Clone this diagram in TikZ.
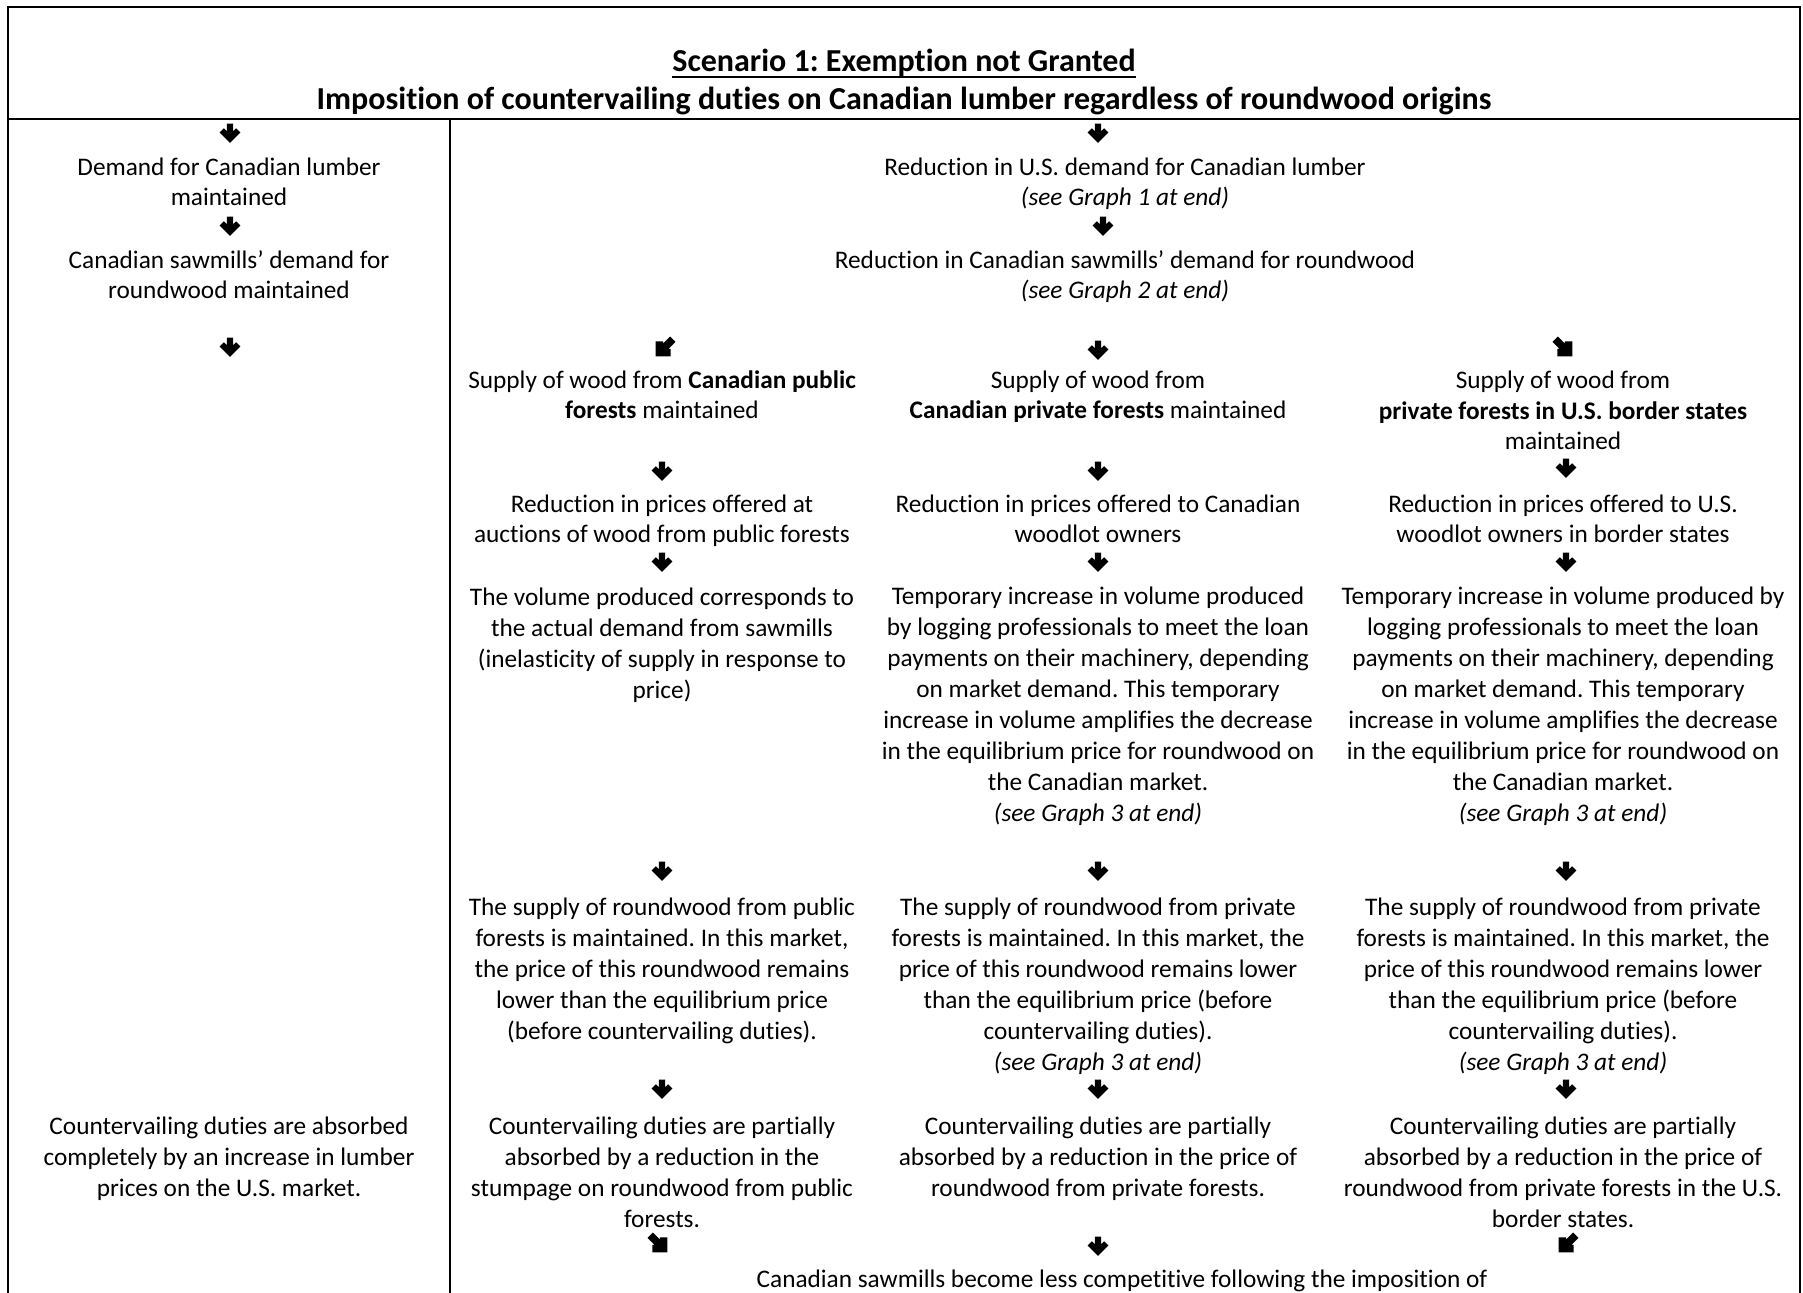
\documentclass[tikz,border=0pt]{standalone}
\usepackage{fontspec}
\setmainfont{Carlito}[Ligatures=NoCommon]
\frenchspacing
\begin{document}
\begin{tikzpicture}[x=0.5pt,y=-0.5pt,
  % multi-line nodes are anchored at the baseline of their last line
  body/.style={font=\fontsize{12.65}{15.45}\selectfont\frenchspacing, align=center, inner sep=0pt, anchor=base},
  head/.style={font=\fontsize{16}{19}\selectfont\bfseries\frenchspacing, inner sep=0pt, anchor=base},
  frame/.style={line width=0.9pt},
  % heavy downward arrow glyph
  dnarrow/.pic={\fill[scale=1.1] (-2.9,-8.5) -- (2.9,-8.5) -- (2.9,-1.66) -- (5.5,-4.3) -- (9.4,-0.4) -- (0,9) -- (-9.4,-0.4) -- (-5.5,-4.3) -- (-2.9,-1.66) -- cycle;},
  % heavy arrow with a longer shaft, used rotated for the diagonal glyphs
  diagarrow/.pic={\fill[scale=1.25, yshift=0.6pt] (-3,-11) -- (3,-11) -- (3,-2.98) -- (4.26,-4.24) -- (8.5,0) -- (0,8.5) -- (-8.5,0) -- (-4.26,-4.24) -- (-3,-2.98) -- cycle;},
]
% canvas
\fill[white] (0,0) rectangle (1803,1293);
\useasboundingbox (0,0) rectangle (1803,1293);

% table rules
\draw[frame] (8,1293) -- (8,7) -- (1800,7) -- (1800,1293);
\draw[frame] (8,119) -- (1800,119);
\draw[frame] (450,119) -- (450,1293);

% heading
\node[head] (t1) at (904,72) {Scenario 1: Exemption not Granted};
\draw[line width=1pt] ([yshift=-2.6pt]t1.base west) -- ([yshift=-2.6pt]t1.base east);
\node[head] (t2) at (904,110) {Imposition of countervailing duties on Canadian lumber regardless of roundwood origins};

% left column: exemption scenario
\pic at (230,133) {dnarrow};
\node[body] (l1) at (229,206) {Demand for Canadian lumber\\maintained};
\pic at (230,226) {dnarrow};
\node[body] (l2) at (229,299) {Canadian sawmills’ demand for\\roundwood maintained};
\pic at (230,347) {dnarrow};
\node[body] (l3) at (229,1196) {Countervailing duties are absorbed\\completely by an increase in lumber\\prices on the U.S. market.};

% right part: common trunk
\pic at (1098,133) {dnarrow};
\node[body] (r1) at (1125,206) {Reduction in U.S. demand for Canadian lumber\\\textit{(see Graph 1 at end)}};
\pic at (1103,226) {dnarrow};
\node[body] (r2) at (1125,299) {Reduction in Canadian sawmills’ demand for roundwood\\\textit{(see Graph 2 at end)}};

% split into three supply sources
\pic[rotate=-45] at (662,350) {diagarrow};
\pic at (1098,350) {dnarrow};
\pic[rotate=45] at (1566,350) {diagarrow};

\node[body] (a1) at (662,419) {Supply of wood from \textbf{Canadian public}\\\textbf{forests} maintained};
\node[body] (b1) at (1098,419) {Supply of wood from\\\textbf{Canadian private forests} maintained};
\node[body] (c1) at (1563,450) {Supply of wood from\\\textbf{private forests in U.S. border states}\\maintained};

\pic at (662,471) {dnarrow};
\pic at (1098,471) {dnarrow};
\pic at (1566,468) {dnarrow};

\node[body] (a2) at (662,543) {Reduction in prices offered at\\auctions of wood from public forests};
\node[body] (b2) at (1098,543) {Reduction in prices offered to Canadian\\woodlot owners};
\node[body] (c2) at (1563,543) {Reduction in prices offered to U.S.\\woodlot owners in border states};

\pic at (662,562) {dnarrow};
\pic at (1098,562) {dnarrow};
\pic at (1566,562) {dnarrow};

\node[body] (a3) at (662,698) {The volume produced corresponds to\\the actual demand from sawmills\\(inelasticity of supply in response to\\price)};
\node[body] (b3) at (1098,821) {Temporary increase in volume produced\\by logging professionals to meet the loan\\payments on their machinery, depending\\on market demand. This temporary\\increase in volume amplifies the decrease\\in the equilibrium price for roundwood on\\the Canadian market.\\\textit{(see Graph 3 at end)}};
\node[body] (c3) at (1563,821) {Temporary increase in volume produced by\\logging professionals to meet the loan\\payments on their machinery, depending\\on market demand. This temporary\\increase in volume amplifies the decrease\\in the equilibrium price for roundwood on\\the Canadian market.\\\textit{(see Graph 3 at end)}};

\pic at (662,871) {dnarrow};
\pic at (1098,871) {dnarrow};
\pic at (1566,871) {dnarrow};

\node[body] (a4) at (662,1039) {The supply of roundwood from public\\forests is maintained. In this market,\\the price of this roundwood remains\\lower than the equilibrium price\\(before countervailing duties).};
\node[body] (b4) at (1098,1070) {The supply of roundwood from private\\forests is maintained. In this market, the\\price of this roundwood remains lower\\than the equilibrium price (before\\countervailing duties).\\\textit{(see Graph 3 at end)}};
\node[body] (c4) at (1563,1070) {The supply of roundwood from private\\forests is maintained. In this market, the\\price of this roundwood remains lower\\than the equilibrium price (before\\countervailing duties).\\\textit{(see Graph 3 at end)}};

\pic at (662,1089) {dnarrow};
\pic at (1098,1089) {dnarrow};
\pic at (1566,1089) {dnarrow};

\node[body] (a5) at (662,1227) {Countervailing duties are partially\\absorbed by a reduction in the\\stumpage on roundwood from public\\forests.};
\node[body] (b5) at (1098,1196) {Countervailing duties are partially\\absorbed by a reduction in the price of\\roundwood from private forests.};
\node[body] (c5) at (1563,1227) {Countervailing duties are partially\\absorbed by a reduction in the price of\\roundwood from private forests in the U.S.\\border states.};

% merge towards the outcome
\pic[rotate=45] at (661,1246) {diagarrow};
\pic at (1098,1246) {dnarrow};
\pic[rotate=-45] at (1565,1246) {diagarrow};

\node[body] (out) at (1122,1287) {Canadian sawmills become less competitive following the imposition of};
\end{tikzpicture}
\end{document}
